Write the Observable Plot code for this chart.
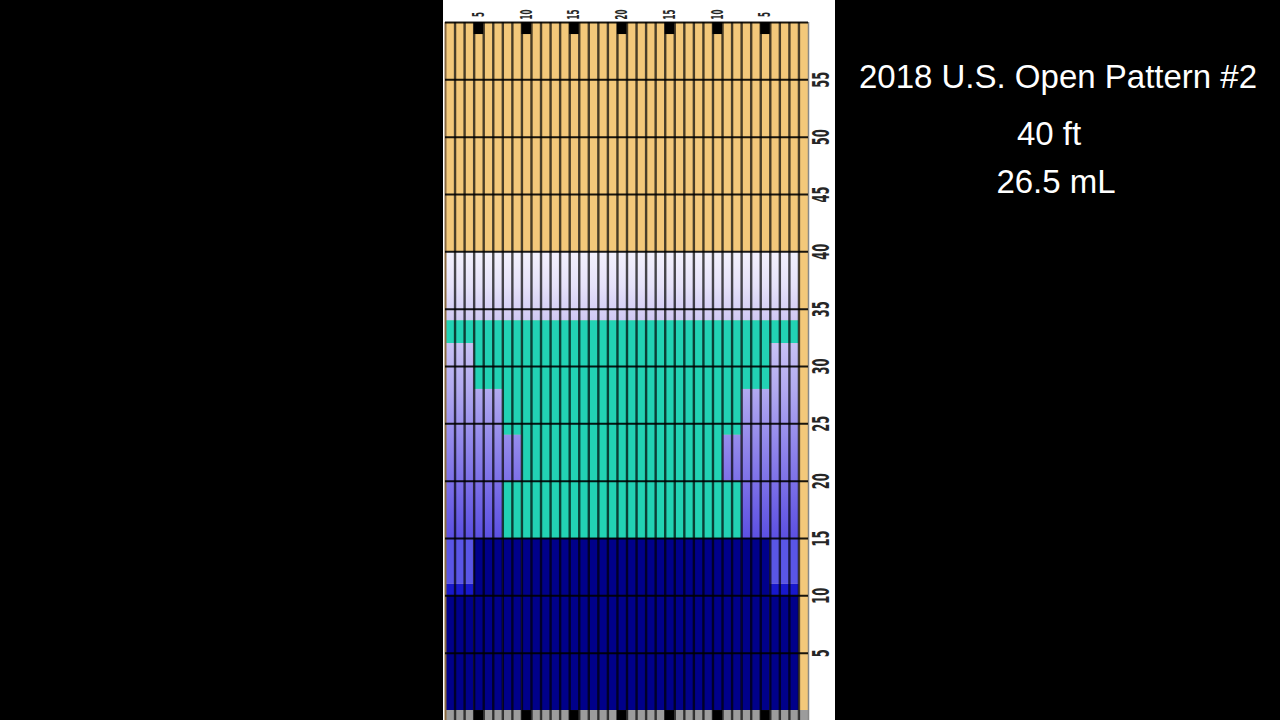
<!DOCTYPE html>
<html>
<head>
<meta charset="utf-8">
<script src="https://cdn.jsdelivr.net/npm/d3@7"></script>
<script src="https://cdn.jsdelivr.net/npm/@observablehq/plot@0.6"></script>
<style>
html, body { margin: 0; padding: 0; background: #000; width: 1280px; height: 720px; overflow: hidden; }
#chart { position: absolute; left: 443px; top: 0; }
.t { position: absolute; width: 500px; text-align: center; color: #fff;
     font-family: "Liberation Sans", Arial, sans-serif; font-size: 33px; line-height: 33px; white-space: nowrap; }
</style>
</head>
<body>
<div id="chart"></div>
<div class="t" style="left:808px; top:60px;">2018 U.S. Open Pattern #2</div>
<div class="t" style="left:799px; top:117px;">40 ft</div>
<div class="t" style="left:806px; top:165px;">26.5 mL</div>
<script>
// ---- data ----
const laneBoards = d3.range(2, 40);               // boards shown (2..39)
const laneLengthFt = 60;
const approachFt = -0.87;                          // depth of the grey approach strip
const arrowBoards = [5, 10, 15, 20, 25, 30, 35];
const boardLabels = ["5", "10", "15", "20", "15", "10", "5"];
const feetTicks = [5, 10, 15, 20, 25, 30, 35, 40, 45, 50, 55];
const gridFeet = [5, 10, 15, 20, 25, 30, 35, 40, 45, 50, 55, 60];
const markerFt = [58.95, 60];

// left-half oil zones (mirrored to board 40 - b on the right)
const oilLeft = [
  {from: 2,  to: 4,  ft0: 0,  ft1: 10, zone: "navy"},
  {from: 2,  to: 4,  ft0: 10, ft1: 11, zone: "blue"},
  {from: 2,  to: 4,  ft0: 11, ft1: 15, zone: "purple"},
  {from: 2,  to: 4,  ft0: 15, ft1: 32, zone: "lavender"},
  {from: 2,  to: 4,  ft0: 32, ft1: 34, zone: "teal"},
  {from: 5,  to: 7,  ft0: 0,  ft1: 15, zone: "navy"},
  {from: 5,  to: 7,  ft0: 15, ft1: 28, zone: "lavender"},
  {from: 5,  to: 7,  ft0: 28, ft1: 34, zone: "teal"},
  {from: 8,  to: 9,  ft0: 0,  ft1: 15, zone: "navy"},
  {from: 8,  to: 9,  ft0: 15, ft1: 20, zone: "teal"},
  {from: 8,  to: 9,  ft0: 20, ft1: 24, zone: "lavender"},
  {from: 8,  to: 9,  ft0: 24, ft1: 34, zone: "teal"},
  {from: 10, to: 20, ft0: 0,  ft1: 15, zone: "navy"},
  {from: 10, to: 20, ft0: 15, ft1: 34, zone: "teal"},
  {from: 2,  to: 20, ft0: 34, ft1: 40, zone: "light"}
];
const oil = oilLeft.concat(oilLeft.map(d => ({...d, from: 40 - d.to, to: 40 - d.from})));

const zoneFill = {
  navy: "#00008a", blue: "#1818cc", purple: "#5a56e6", teal: "#22d2b4",
  lavender: "url(#lavGrad)", light: "url(#lightGrad)"
};
const lavenderStops = [[32, "#c8c2f4"], [28, "#b2aaf0"], [24, "#978dec"], [20, "#7d71e8"], [15, "#5c50e2"]];
const lightStops = [[40, "#f3f1fc"], [37, "#e6e2f9"], [34, "#cfc8f3"]];

// ---- chart ----
const labelFont = "'Liberation Sans Narrow', 'DejaVu Sans Condensed', 'DejaVu Sans', sans-serif";
const zones = Object.keys(zoneFill);
const plot = Plot.plot({
  width: 392, height: 720,
  marginLeft: 2, marginRight: 27, marginTop: 22, marginBottom: 0,
  x: {domain: [1.5, 39.5], axis: null},
  y: {domain: [approachFt, laneLengthFt], axis: null},
  style: {background: "white"},
  marks: [
    // lane wood
    Plot.rect(laneBoards, {x1: d => d - 0.5, x2: d => d + 0.5, y1: 0, y2: laneLengthFt, fill: "#f3c87a"}),
    // oil
    ...zones.map(z => Plot.rect(oil.filter(d => d.zone === z), {
      x1: d => d.from - 0.5, x2: d => d.to + 0.5, y1: "ft0", y2: "ft1", fill: zoneFill[z]
    })),
    // approach strip
    Plot.rect(laneBoards, {x1: d => d - 0.5, x2: d => d + 0.5, y1: approachFt, y2: 0,
      fill: d => arrowBoards.includes(d) ? "#000" : "#9c9c9c"}),
    // top markers
    Plot.rect(arrowBoards, {x1: d => d - 0.5, x2: d => d + 0.5, y1: markerFt[0], y2: markerFt[1], fill: "#000"}),
    // board separators
    Plot.ruleX(laneBoards.slice(0, -1), {x: d => d + 0.5, y1: approachFt, y2: laneLengthFt,
      stroke: "#000", strokeOpacity: 0.7, strokeWidth: 2.4}),
    Plot.ruleX([39.5], {y1: approachFt, y2: laneLengthFt, stroke: "#888", strokeWidth: 1.5}),
    Plot.ruleX([1.5], {y1: approachFt, y2: laneLengthFt, stroke: "#8a6a40", strokeWidth: 2}),
    // foot grid
    Plot.ruleY(gridFeet, {x1: 1.5, x2: 39.5, stroke: "#000", strokeOpacity: 0.9, strokeWidth: 2}),
    // labels (feet labels first, board labels second)
    Plot.text(feetTicks, {y: d => d, text: d => String(d), frameAnchor: "right", dx: 13, rotate: -90,
      textAnchor: "middle", lineAnchor: "middle", fontSize: 23, fontWeight: 600, fill: "#262626", fontFamily: labelFont}),
    Plot.text(arrowBoards, {x: d => d, text: (d, i) => boardLabels[i], frameAnchor: "top", dy: -8, rotate: -90,
      textAnchor: "middle", lineAnchor: "middle", fontSize: 15, fontWeight: 600, fill: "#262626", fontFamily: labelFont})
  ]
});

// gradients in lane coordinates
const ys = plot.scale("y");
const svg = d3.select(plot);
const defs = svg.insert("defs", ":first-child");
function addGrad(id, stops) {
  const a = stops[0][0], b = stops[stops.length - 1][0];
  const g = defs.append("linearGradient").attr("id", id).attr("gradientUnits", "userSpaceOnUse")
    .attr("x1", 0).attr("x2", 0).attr("y1", ys.apply(a)).attr("y2", ys.apply(b));
  stops.forEach(([ft, c]) => g.append("stop").attr("offset", (ft - a) / (b - a)).attr("stop-color", c));
}
addGrad("lavGrad", lavenderStops);
addGrad("lightGrad", lightStops);

// condensed, centred label glyphs
const textGroups = plot.querySelectorAll('g[aria-label="text"]');
function condense(group, perChar) {
  d3.select(group).attr("text-anchor", "start").selectAll("text").each(function () {
    const L = perChar * this.textContent.length;
    d3.select(this).attr("x", -L / 2).attr("textLength", L).attr("lengthAdjust", "spacingAndGlyphs");
  });
}
condense(textGroups[0], 8);
condense(textGroups[1], 5);

document.getElementById("chart").appendChild(plot);
</script>
</body>
</html>
